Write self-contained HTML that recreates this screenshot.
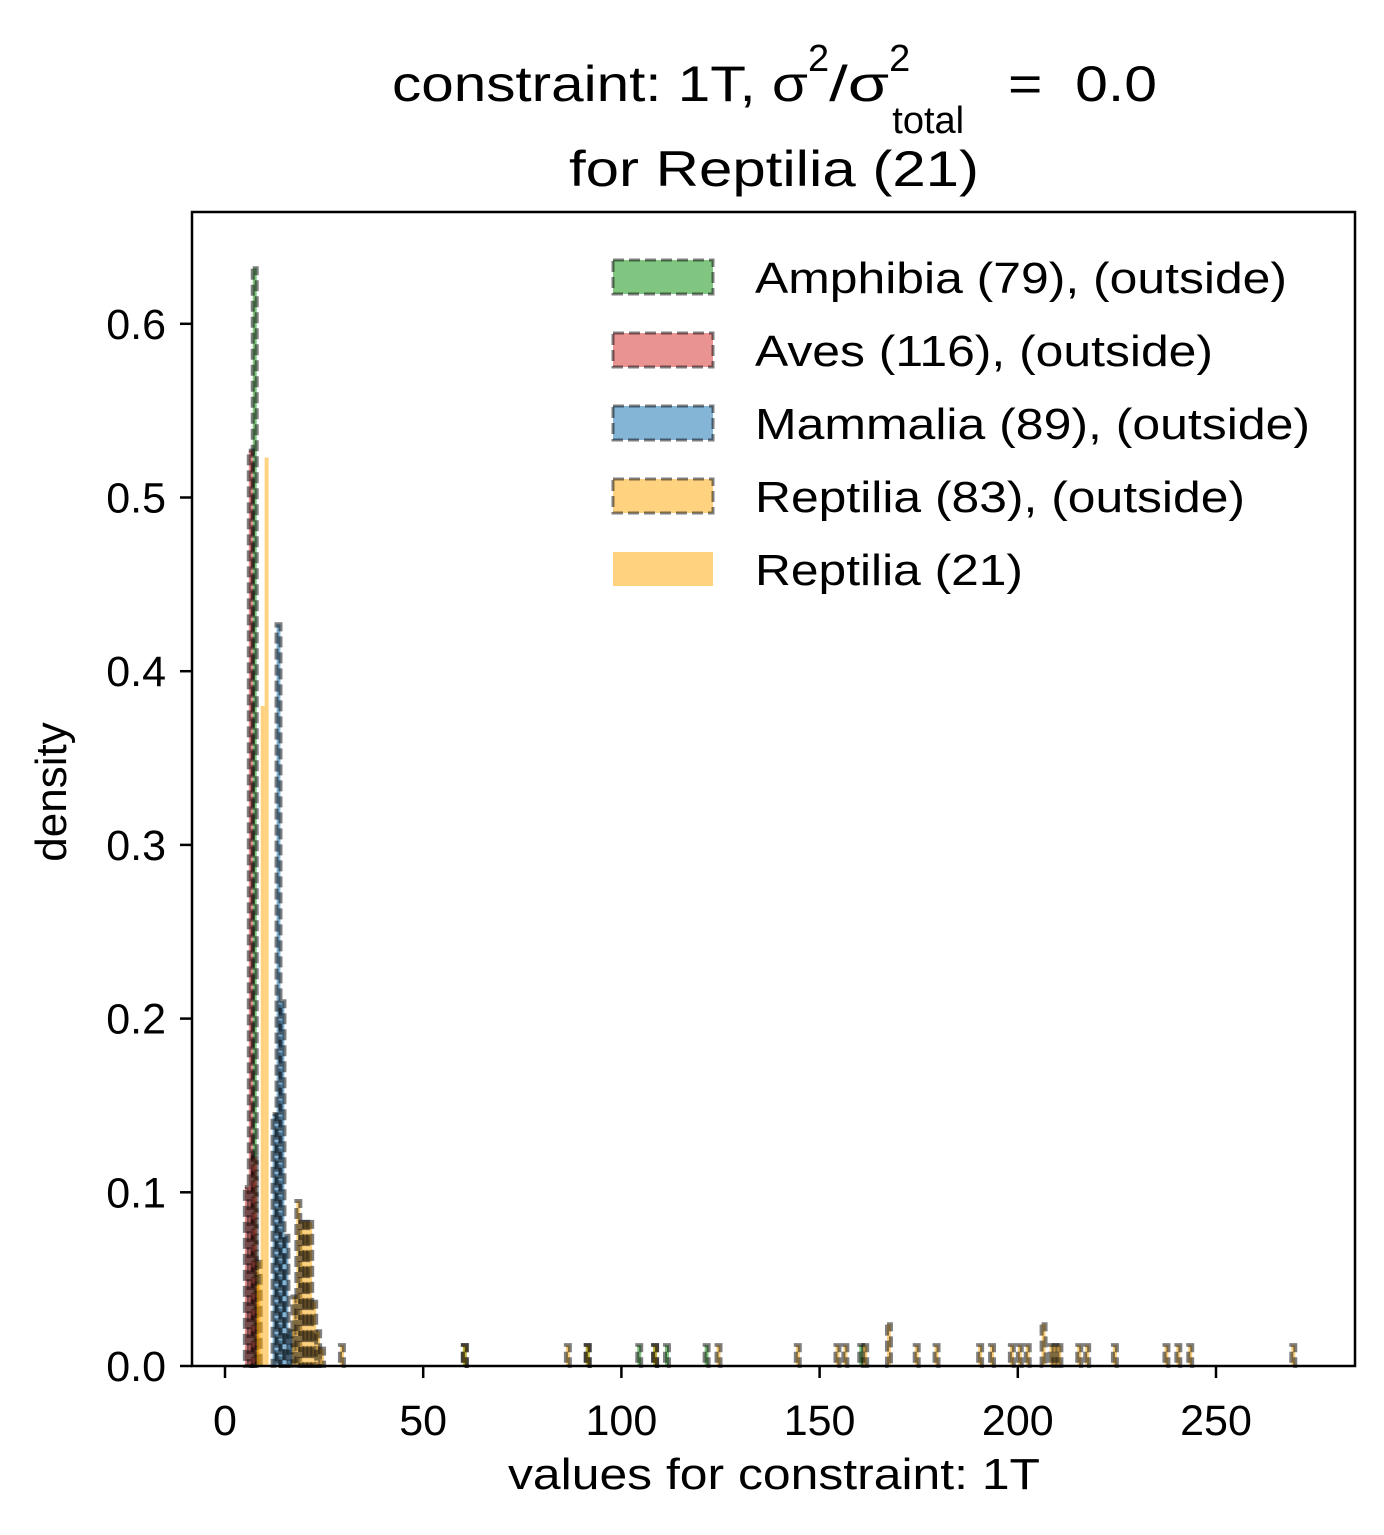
<!DOCTYPE html>
<html><head><meta charset="utf-8"><style>
body{margin:0;background:#fff}
svg{display:block;font-family:"Liberation Sans",Arial,sans-serif}
</style></head><body>
<svg id="chart" width="1384" height="1535" viewBox="0 0 1384 1535" xmlns="http://www.w3.org/2000/svg">
<text x="392" y="101" font-size="50" xml:space="preserve"><tspan textLength="416" lengthAdjust="spacingAndGlyphs">constraint: 1T, σ</tspan><tspan dy="-30" font-size="38">2</tspan><tspan dy="30" textLength="60" lengthAdjust="spacingAndGlyphs">/σ</tspan><tspan dy="-30" font-size="38">2</tspan><tspan dx="-18" dy="62" font-size="38">total</tspan><tspan dy="-32" x="1008" textLength="149" lengthAdjust="spacingAndGlyphs">=  0.0</tspan></text>
<text x="774" y="186" font-size="50" text-anchor="middle" textLength="410" lengthAdjust="spacingAndGlyphs">for Reptilia (21)</text>
<g id="bars"></g>
<rect x="192" y="212" width="1163" height="1154" fill="none" stroke="#000" stroke-width="2.5"/>
<g id="axes"></g>
<text x="774" y="1489" font-size="44" text-anchor="middle" textLength="532" lengthAdjust="spacingAndGlyphs">values for constraint: 1T</text>
<text transform="translate(66,792) rotate(-90)" font-size="44" text-anchor="middle">density</text>
<g id="legend"></g>
</svg>
<script>
// data: bins [leftEdge, density], bin width 1
const amphibia = [[7,0.632],[60,0.012],[91,0.012],[104,0.012],[108,0.012],[111,0.012],[121,0.012],[160,0.012]];
const aves = [[5,0.103],[6,0.527],[7,0.12]];
const mammalia = [[12,0.145],[13,0.427],[14,0.21],[15,0.075],[16,0.02]];
const reptiliaOut = [[8,0.06],[17,0.04],[18,0.095],[19,0.083],[20,0.083],[21,0.083],[22,0.037],[23,0.02],[24,0.01],[29,0.012],
 [60,0.012],[86,0.012],[91,0.012],[108,0.012],[124,0.012],[144,0.012],[154,0.012],[156,0.012],[161,0.012],[167,0.024],[174,0.012],[179,0.012],
 [190,0.012],[193,0.012],[198,0.012],[200,0.012],[202,0.012],[206,0.024],[208,0.012],[209,0.012],[210,0.012],[215,0.012],[217,0.012],[224,0.012],
 [237,0.012],[240,0.012],[243,0.012],[269,0.012]];
const reptiliaIn = [[8,0.047],[9,0.38],[10,0.523]];
const xTicks = [0,50,100,150,200,250];
const yTicks = [0,0.1,0.2,0.3,0.4,0.5,0.6];
const legendLabels = ["Amphibia (79), (outside)","Aves (116), (outside)","Mammalia (89), (outside)","Reptilia (83), (outside)","Reptilia (21)"];
const legendWidths = [532,458,555,490,268];

const NS="http://www.w3.org/2000/svg";
function x(v){return 225+3.964*v;}
function y(d){return 1366-1737*d;}
function mk(tag,parent,attrs){const e=document.createElementNS(NS,tag);for(const k in attrs)e.setAttribute(k,attrs[k]);parent.appendChild(e);return e;}
const bars=document.getElementById('bars');
const series=[
 {d:amphibia,fill:"rgba(44,160,44,0.6)",dash:true,name:"amphibia"},
 {d:aves,fill:"rgba(214,39,40,0.5)",dash:true,name:"aves"},
 {d:mammalia,fill:"rgba(31,119,180,0.55)",dash:true,name:"mammalia"},
 {d:reptiliaOut,fill:"rgba(255,165,0,0.5)",dash:true,name:"reptilia-outside"},
 {d:reptiliaIn,fill:"rgba(255,165,0,0.5)",dash:false,name:"reptilia-21"}];
series.forEach(s=>{
 s.d.forEach(b=>{
  const x0=x(b[0]),x1=x(b[0]+1),yt=y(b[1]);
  const r=mk('rect',bars,{x:x0,y:yt,width:x1-x0,height:1366-yt,fill:s.fill});
  
  
  if(s.dash){r.setAttribute('stroke','rgba(0,0,0,0.5)');r.setAttribute('stroke-width','4');r.setAttribute('stroke-dasharray','11 5');}
 });
});
const axes=document.getElementById('axes');
xTicks.forEach(t=>{
 const l=mk('line',axes,{x1:x(t),x2:x(t),y1:1366,y2:1378,stroke:'#000','stroke-width':2.5});
 
 
 const tx=mk('text',axes,{x:x(t),y:1435,'font-size':43,'text-anchor':'middle'});
 tx.textContent=t;
 
 
});
yTicks.forEach(t=>{
 const l=mk('line',axes,{x1:180,x2:192,y1:y(t),y2:y(t),stroke:'#000','stroke-width':2.5});
 
 
 const tx=mk('text',axes,{x:166,y:y(t)+15,'font-size':43,'text-anchor':'end'});
 tx.textContent=t.toFixed(1);
 
 
});
const leg=document.getElementById('legend');
legendLabels.forEach((lab,i)=>{
 const s=series[i];const cy=277+i*73;
 const r=mk('rect',leg,{x:613,y:cy-17,width:100,height:34,fill:s.fill});
 if(s.dash){r.setAttribute('stroke','rgba(0,0,0,0.5)');r.setAttribute('stroke-width','3');r.setAttribute('stroke-dasharray','11 5');}
 
 
 const t=mk('text',leg,{x:755,y:cy+16,'font-size':44,textLength:legendWidths[i],lengthAdjust:'spacingAndGlyphs'});
 t.textContent=lab;
 
 
});
</script>
</body></html>
